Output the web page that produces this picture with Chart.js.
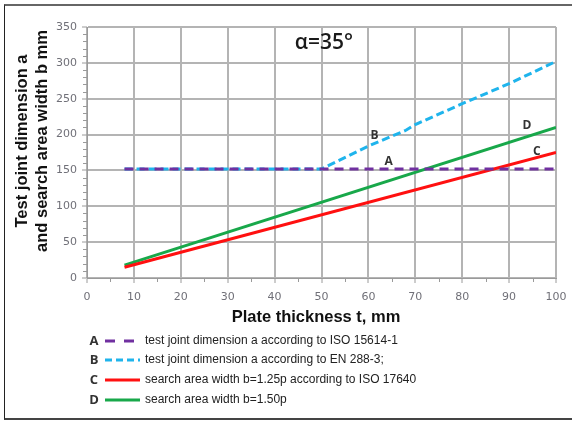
<!DOCTYPE html>
<html>
<head>
<meta charset="utf-8">
<script src="https://cdn.jsdelivr.net/npm/chart.js@4"></script>
<style>
  html, body { margin: 0; padding: 0; background: #fff; }
  #wrap { position: relative; width: 572px; height: 421px; overflow: hidden; }
  #frame { position: absolute; left: 4px; top: 4px; width: 600px; height: 412px;
           border-left: 1px solid #222; border-top: 2px solid #666; border-bottom: 2px solid #444; }
  canvas { position: absolute; left: 0; top: 0; }
</style>
</head>
<body>
<div id="wrap">
  <div id="frame"></div>
  <canvas id="chart" width="572" height="421"></canvas>
</div>
<script>
// plate thickness t (mm) and curve values
var thicknessA = [8, 100];
var valuesA = [152, 152];
var thicknessB = [8, 50, 60, 68, 70, 80, 90, 100];
var valuesB = [152, 152, 184, 206, 214, 243, 271, 302];
var thicknessC = [8, 100];
var valuesC = [15, 175];
var thicknessD = [8, 100];
var valuesD = [18, 210];

var seriesLetters = ["A", "B", "C", "D"];
var seriesNames = [
    "test joint dimension a according to ISO 15614-1",
    "test joint dimension a according to EN 288-3;",
    "search area width b=1.25p according to ISO 17640",
    "search area width b=1.50p"
];
// in-plot letter markers [t, value]
var markerA = [64.3, 162];
var markerB = [61.3, 199];
var markerC = [95.9, 176];
var markerD = [93.8, 212];

function toPoints(xs, ys) {
    var pts = [];
    for (let i = 0; i < xs.length; i++) {
        pts.push({ x: xs[i], y: ys[i] });
    }
    return pts;
}

// draws minor ticks, axis titles, letters, heading and the legend
var extrasPlugin = {
    id: 'extras',
    afterDraw: function(chart) {
        var ctx = chart.ctx;
        var xs = chart.scales.x, ys = chart.scales.y;
        ctx.save();

        // minor ticks
        ctx.strokeStyle = '#9a9a9a';
        ctx.lineWidth = 1;
        for (let t = 5; t < 100; t += 10) {
            var px = Math.round(xs.getPixelForValue(t)) + 0.5;
            ctx.beginPath();
            ctx.moveTo(px, ys.bottom);
            ctx.lineTo(px, ys.bottom + 4);
            ctx.stroke();
        }
        for (let v = 10; v < 350; v += 10) {
            if (v % 50 === 0) continue;
            var py = Math.round(ys.getPixelForValue(v)) + 0.5;
            ctx.beginPath();
            ctx.moveTo(xs.left - 4, py);
            ctx.lineTo(xs.left, py);
            ctx.stroke();
        }

        // axis titles
        ctx.fillStyle = '#111';
        ctx.font = "bold 16.5px Arial, 'Liberation Sans', sans-serif";
        ctx.textAlign = 'center';
        ctx.textBaseline = 'middle';
        ctx.fillText('Plate thickness t, mm', 316, 317);
        ctx.save();
        ctx.translate(22, 141);
        ctx.rotate(-Math.PI / 2);
        ctx.fillText('Test joint dimension a', 0, 0);
        ctx.fillText('and search area width b mm', 0, 20);
        ctx.restore();

        // heading inside plot
        ctx.font = "600 21px 'Open Sans', 'DejaVu Sans', sans-serif";
        ctx.fillStyle = '#1a1a1a';
        ctx.fillText('\u03b1=35\u00b0', xs.getPixelForValue(50.5), ys.getPixelForValue(328));

        // letters next to curves
        ctx.font = "bold 12px 'Open Sans', Arial, sans-serif";
        ctx.fillStyle = '#333';
        var markers = [markerA, markerB, markerC, markerD];
        for (let i = 0; i < markers.length; i++) {
            ctx.fillText(seriesLetters[i], xs.getPixelForValue(markers[i][0]), ys.getPixelForValue(markers[i][1]));
        }

        // legend
        var rowY = [341, 360, 380, 400];
        for (let i = 0; i < chart.data.datasets.length; i++) {
            var ds = chart.data.datasets[i];
            ctx.font = "bold 13px 'Open Sans', Arial, sans-serif";
            ctx.fillStyle = '#333';
            ctx.textAlign = 'center';
            ctx.fillText(seriesLetters[i], 94, rowY[i]);
            ctx.strokeStyle = ds.borderColor;
            ctx.lineWidth = 3;
            ctx.setLineDash(ds.legendDash || []);
            ctx.beginPath();
            ctx.moveTo(105, rowY[i]);
            ctx.lineTo(140, rowY[i]);
            ctx.stroke();
            ctx.setLineDash([]);
            ctx.font = "12px Arial, 'Liberation Sans', sans-serif";
            ctx.fillStyle = '#222';
            ctx.textAlign = 'left';
            ctx.fillText(seriesNames[i], 145, rowY[i]);
        }
        ctx.restore();
    }
};

const ctx = document.getElementById('chart').getContext('2d');
var chartId = new Chart(ctx, {
    type: 'line',
    data: {
        datasets: [
            {
                label: seriesNames[0],
                data: toPoints(thicknessA, valuesA),
                borderColor: '#7030a0',
                borderWidth: 3,
                borderDash: [9, 6],
                legendDash: [10, 9],
                pointRadius: 0,
                order: 1
            },
            {
                label: seriesNames[1],
                data: toPoints(thicknessB, valuesB),
                borderColor: '#1fb4ec',
                borderWidth: 3,
                borderDash: [8, 4],
                legendDash: [7, 4],
                pointRadius: 0,
                order: 2
            },
            {
                label: seriesNames[2],
                data: toPoints(thicknessC, valuesC),
                borderColor: '#ff1010',
                borderWidth: 3,
                pointRadius: 0,
                order: 3
            },
            {
                label: seriesNames[3],
                data: toPoints(thicknessD, valuesD),
                borderColor: '#18a84a',
                borderWidth: 3,
                pointRadius: 0,
                order: 4
            }
        ]
    },
    options: {
        responsive: false,
        animation: false,
        layout: {
            padding: { left: 0, top: 27, right: 16, bottom: 0 }
        },
        scales: {
            x: {
                type: 'linear',
                min: 0,
                max: 100,
                ticks: {
                    stepSize: 10,
                    color: '#707078',
                    font: { family: "Verdana, 'DejaVu Sans', sans-serif", size: 11 },
                    padding: 8
                },
                grid: { color: '#b4b4b4', lineWidth: 2, tickLength: 5, tickColor: '#9a9a9a', tickWidth: 1 },
                border: { color: '#9a9a9a', width: 1 },
                afterFit: function(scale) {
                    scale.height = 421 - 278;
                    scale.paddingRight = 0;
                    scale.paddingLeft = 0;
                }
            },
            y: {
                min: 0,
                max: 350,
                ticks: {
                    stepSize: 50,
                    color: '#707078',
                    font: { family: "Verdana, 'DejaVu Sans', sans-serif", size: 11 },
                    padding: 5
                },
                grid: { color: '#b4b4b4', lineWidth: 2, tickLength: 5, tickColor: '#9a9a9a', tickWidth: 1 },
                border: { color: '#9a9a9a', width: 1 },
                afterFit: function(scale) {
                    scale.width = 87;
                    scale.paddingTop = 0;
                    scale.paddingBottom = 0;
                }
            }
        },
        plugins: {
            legend: { display: false },
            tooltip: { enabled: false }
        }
    },
    plugins: [extrasPlugin]
});
</script>
</body>
</html>
